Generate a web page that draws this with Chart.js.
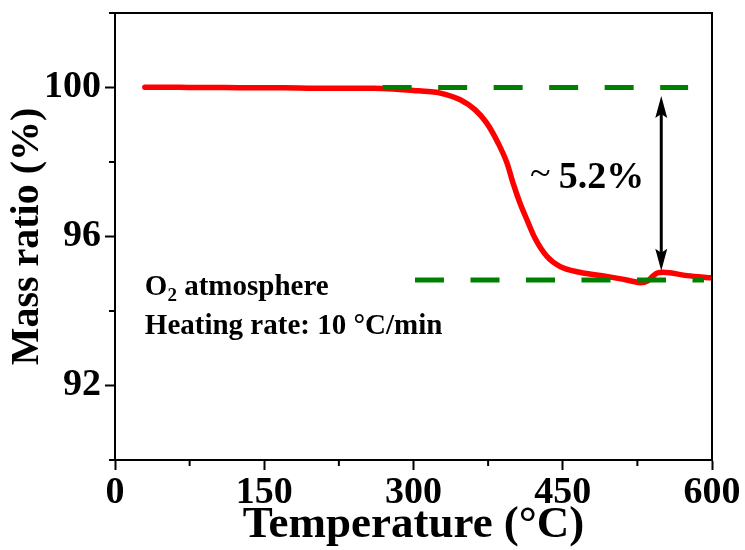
<!DOCTYPE html>
<html>
<head>
<meta charset="utf-8">
<script src="https://cdn.jsdelivr.net/npm/chart.js@4.4.1/dist/chart.umd.min.js"></script>
<style>
  html, body { margin: 0; padding: 0; background: #fff; }
</style>
</head>
<body>
<canvas id="tga" width="745" height="550"></canvas>
<script>
// TGA curve
var tempC   = [30, 50, 80, 110, 140, 170, 200, 230, 260, 280, 300, 315, 327, 347, 362, 373.5, 385, 394, 400, 407, 414, 422, 434, 447, 467, 494, 507, 520, 528, 535, 540, 545, 551, 575, 600];
var massPct = [100.01, 100.01, 100.0, 100.0, 99.99, 99.99, 99.98, 99.98, 99.98, 99.96, 99.92, 99.89, 99.85, 99.67, 99.40, 99.05, 98.51, 97.97, 97.44, 96.90, 96.45, 95.96, 95.47, 95.20, 95.04, 94.93, 94.87, 94.80, 94.76, 94.80, 94.92, 95.02, 95.04, 94.95, 94.89];

// guide lines and arrow
var upperT = [269, 576];
var upperM = [100, 100];
var lowerT = [301.5, 592];
var lowerM = [94.83, 94.83];
var arrowT = [549, 549];
var arrowM = [99.77, 95.08];

// ticks
var xTicks = [0, 150, 300, 450, 600];
var xMinor = [75, 225, 375, 525];
var yTicks = [92, 96, 100];
var yMinor = [90, 94, 98, 102];

var serif = '"Liberation Serif", "Times New Roman", serif';
Chart.defaults.font.family = serif;
Chart.defaults.color = '#000';

function pts(xs, ys) {
	return xs.map(function (x, i) { return { x: x, y: ys[i] }; });
}

// box + minor ticks + arrow + text labels
var extras = {
	id: 'extras',
	afterDatasetsDraw: function (chart) {
		var ctx = chart.ctx;
		var xs = chart.scales.x, ys = chart.scales.y;

		// double arrow
		var ax = xs.getPixelForValue(arrowT[0]);
		var ay1 = ys.getPixelForValue(arrowM[0]);
		var ay2 = ys.getPixelForValue(arrowM[1]);
		ctx.save();
		ctx.strokeStyle = '#000';
		ctx.fillStyle = '#000';
		ctx.lineWidth = 3;
		ctx.beginPath();
		ctx.moveTo(ax, ay1 + 15);
		ctx.lineTo(ax, ay2 - 15);
		ctx.stroke();
		ctx.beginPath();
		ctx.moveTo(ax, ay1);
		ctx.lineTo(ax - 6, ay1 + 22);
		ctx.lineTo(ax, ay1 + 18);
		ctx.lineTo(ax + 6, ay1 + 22);
		ctx.closePath();
		ctx.fill();
		ctx.beginPath();
		ctx.moveTo(ax, ay2);
		ctx.lineTo(ax - 6, ay2 - 22);
		ctx.lineTo(ax, ay2 - 18);
		ctx.lineTo(ax + 6, ay2 - 22);
		ctx.closePath();
		ctx.fill();

		// labels
		ctx.textBaseline = 'alphabetic';
		ctx.textAlign = 'left';
		var tx = xs.getPixelForValue(417);
		var ty = ys.getPixelForValue(97.3);
		ctx.font = '38px ' + serif;
		ctx.fillText('~', tx, ty - 3);
		ctx.font = 'bold 38px ' + serif;
		ctx.fillText('5.2%', xs.getPixelForValue(446), ty);

		var lx = xs.getPixelForValue(30);
		var l1 = ys.getPixelForValue(94.44);
		ctx.font = 'bold 29px ' + serif;
		ctx.fillText('O', lx, l1);
		var w = ctx.measureText('O').width;
		ctx.font = 'bold 19px ' + serif;
		ctx.fillText('2', lx + w, l1 + 6);
		var w2 = ctx.measureText('2').width;
		ctx.font = 'bold 29px ' + serif;
		ctx.fillText(' atmosphere', lx + w + w2, l1);
		ctx.fillText('Heating rate: 10 \u00B0C/min', lx, ys.getPixelForValue(93.39));
		ctx.restore();
	},
	afterDraw: function (chart) {
		var ctx = chart.ctx;
		var a = chart.chartArea;
		var xs = chart.scales.x, ys = chart.scales.y;
		ctx.save();
		ctx.strokeStyle = '#000';
		ctx.lineWidth = 2;
		ctx.strokeRect(a.left, a.top, a.right - a.left, a.bottom - a.top);
		ctx.beginPath();
		xMinor.forEach(function (v) {
			var p = xs.getPixelForValue(v);
			ctx.moveTo(p, a.bottom);
			ctx.lineTo(p, a.bottom + 6);
		});
		yMinor.forEach(function (v) {
			var p = ys.getPixelForValue(v);
			ctx.moveTo(a.left - 6, p);
			ctx.lineTo(a.left, p);
		});
		ctx.stroke();
		ctx.restore();
	}
};

new Chart(document.getElementById('tga'), {
	type: 'line',
	data: {
		datasets: [
			{
				data: pts(upperT, upperM),
				borderColor: '#008000',
				borderWidth: 5,
				borderDash: [29, 26.5],
				borderCapStyle: 'butt',
				pointRadius: 0,
				order: 0
			},
			{
				data: pts(lowerT, lowerM),
				borderColor: '#008000',
				borderWidth: 5,
				borderDash: [29, 26.5],
				borderCapStyle: 'butt',
				pointRadius: 0,
				order: 0
			},
			{
				data: pts(tempC, massPct),
				borderColor: '#ff0000',
				borderWidth: 5.5,
				borderCapStyle: 'round',
				borderJoinStyle: 'round',
				cubicInterpolationMode: 'monotone',
				pointRadius: 0,
				order: 2
			}
		]
	},
	options: {
		responsive: false,
		animation: false,
		layout: { padding: { top: 13, right: 33, left: 0, bottom: 0 } },
		plugins: { legend: { display: false }, tooltip: { enabled: false } },
		scales: {
			x: {
				type: 'linear',
				min: 0,
				max: 600,
				afterBuildTicks: function (s) { s.ticks = xTicks.map(function (v) { return { value: v }; }); },
				afterFit: function (s) { s.height = 90; s.paddingLeft = 0; s.paddingRight = 0; },
				ticks: { font: { size: 38, weight: 'bold' }, padding: 0, maxRotation: 0, autoSkip: false },
				grid: { drawOnChartArea: false, tickLength: 10, tickWidth: 2, tickColor: '#000' },
				border: { color: '#000', width: 2 },
				title: { display: true, text: 'Temperature (\u00B0C)', font: { size: 45, weight: 'bold', lineHeight: 1.1 }, padding: 0 }
			},
			y: {
				type: 'linear',
				min: 90,
				max: 102,
				afterBuildTicks: function (s) { s.ticks = yTicks.map(function (v) { return { value: v }; }); },
				afterFit: function (s) { s.width = 115; s.paddingTop = 0; s.paddingBottom = 0; },
				ticks: { font: { size: 38, weight: 'bold' }, padding: 4, autoSkip: false },
				grid: { drawOnChartArea: false, tickLength: 10, tickWidth: 2, tickColor: '#000' },
				border: { color: '#000', width: 2 },
				title: { display: true, text: 'Mass ratio (%)', font: { size: 40, weight: 'bold' }, padding: { top: 4, bottom: 0 } }
			}
		}
	},
	plugins: [extras]
});
</script>
</body>
</html>
